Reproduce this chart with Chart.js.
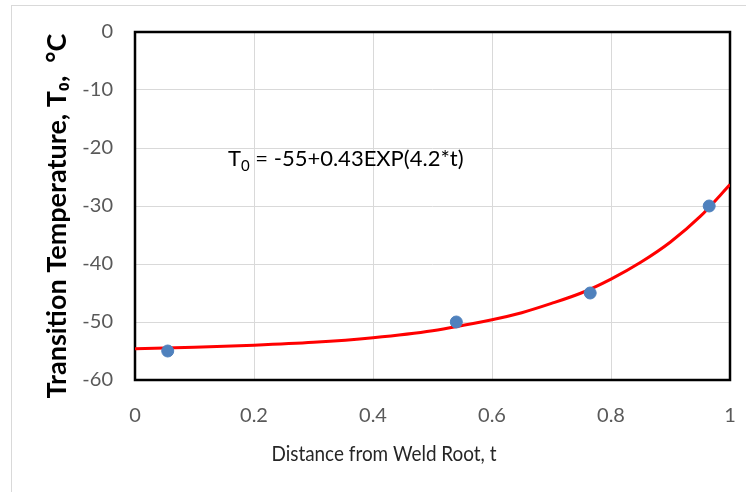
<!DOCTYPE html>
<html>
<head>
<meta charset="utf-8">
<script src="https://cdn.jsdelivr.net/npm/chart.js@4"></script>
<style>
  html, body { margin: 0; padding: 0; background: #fff; }
  #wrap { position: relative; width: 746px; height: 492px; overflow: hidden; }
  #frame { position: absolute; left: 11px; top: 5px; width: 760px; height: 520px; border: 1px solid #d9d9d9; }
  canvas { position: absolute; left: 0; top: 0; }
</style>
</head>
<body>
<div id="wrap">
  <div id="frame"></div>
  <canvas id="chart" width="746" height="492"></canvas>
</div>
<script>
// measured points
const distance = [0.055, 0.54, 0.765, 0.965];
const temperature = [-55, -50, -45, -30];

// fitted curve
const fitDistance = [0, 0.1, 0.2, 0.3, 0.4, 0.5, 0.6, 0.65, 0.7, 0.75, 0.8, 0.85, 0.9, 0.95, 1.0];
const fitTemperature = [-54.6, -54.35, -54.0, -53.5, -52.7, -51.5, -49.6, -48.4, -46.8, -45.0, -42.6, -39.7, -36.2, -31.8, -26.3];

const xTicks = [0, 0.2, 0.4, 0.6, 0.8, 1];
const yTicks = [0, -10, -20, -30, -40, -50, -60];

const xTitle = 'Distance from Weld Root, t';
const yTitle = 'Transition Temperature, T\u2080,  \u00B0C';

const tickColor = '#595959';
const font = 'Lato, "DejaVu Sans", sans-serif';

const frameBox = {
    id: 'frameBox',
    beforeDatasetsDraw(chart) {
        const a = chart.chartArea;
        const ctx = chart.ctx;
        ctx.save();
        ctx.strokeStyle = '#000';
        ctx.lineWidth = 2.5;
        ctx.strokeRect(a.left, a.top, a.right - a.left, a.bottom - a.top);
        ctx.restore();
    }
};

const labels = {
    id: 'labels',
    afterDatasetsDraw(chart) {
        const ctx = chart.ctx;
        ctx.save();
        // equation
        ctx.fillStyle = '#000';
        ctx.textAlign = 'left';
        ctx.textBaseline = 'alphabetic';
        ctx.font = '22px ' + font;
        let x = 228;
        const y = 166;
        ctx.fillText('T', x, y);
        x += ctx.measureText('T').width;
        ctx.font = '15px ' + font;
        ctx.fillText('0', x, y + 5);
        x += ctx.measureText('0').width;
        ctx.font = '22px ' + font;
        ctx.fillText(' = -55+0.43EXP(4.2*t)', x, y);
        ctx.restore();

        // x axis title, slightly condensed like the original face
        ctx.save();
        ctx.fillStyle = '#262626';
        ctx.textAlign = 'center';
        ctx.textBaseline = 'alphabetic';
        ctx.font = '21px ' + font;
        ctx.translate(384, 461);
        ctx.scale(0.9, 1);
        ctx.fillText(xTitle, 0, 0);
        ctx.restore();

        // y axis title
        ctx.save();
        ctx.fillStyle = '#000';
        ctx.textAlign = 'center';
        ctx.textBaseline = 'middle';
        ctx.font = 'bold 27px ' + font;
        ctx.translate(57, 216);
        ctx.rotate(-Math.PI / 2);
        ctx.fillText(yTitle, 0, 0);
        ctx.restore();
    }
};

new Chart(document.getElementById('chart'), {
    type: 'scatter',
    data: {
        datasets: [{
            label: 'Data',
            data: distance.map((d, i) => ({ x: d, y: temperature[i] })),
            backgroundColor: '#4f81bd',
            borderColor: '#4f81bd',
            pointRadius: 6,
            order: 1
        }, {
            label: 'Fit',
            type: 'line',
            data: fitDistance.map((d, i) => ({ x: d, y: fitTemperature[i] })),
            borderColor: '#ff0000',
            borderWidth: 3,
            pointRadius: 0,
            tension: 0.3,
            fill: false,
            order: 2
        }]
    },
    options: {
        responsive: false,
        animation: false,
        layout: { padding: { top: 32, right: 16, left: 0, bottom: 0 } },
        plugins: {
            legend: { display: false },
            tooltip: { enabled: false }
        },
        scales: {
            x: {
                type: 'linear',
                min: 0,
                max: 1,
                afterBuildTicks: scale => { scale.ticks = xTicks.map(v => ({ value: v })); },
                afterFit: scale => {
                    scale.height = 492 - 32 - 348;
                    scale.paddingRight = 0;
                    scale.paddingLeft = 0;
                },
                ticks: {
                    color: tickColor,
                    font: { family: font, size: 20 },
                    padding: 24,
                    maxRotation: 0,
                    callback: v => String(v)
                },
                grid: { color: '#d9d9d9', lineWidth: 1, drawTicks: false },
                border: { display: false }
            },
            y: {
                min: -60,
                max: 0,
                afterBuildTicks: scale => { scale.ticks = yTicks.map(v => ({ value: v })); },
                afterFit: scale => {
                    scale.width = 135;
                    scale.paddingTop = 0;
                    scale.paddingBottom = 0;
                },
                ticks: {
                    color: tickColor,
                    font: { family: font, size: 20 },
                    padding: 22
                },
                grid: { color: '#d9d9d9', lineWidth: 1, drawTicks: false },
                border: { display: false }
            }
        }
    },
    plugins: [frameBox, labels]
});
</script>
</body>
</html>
